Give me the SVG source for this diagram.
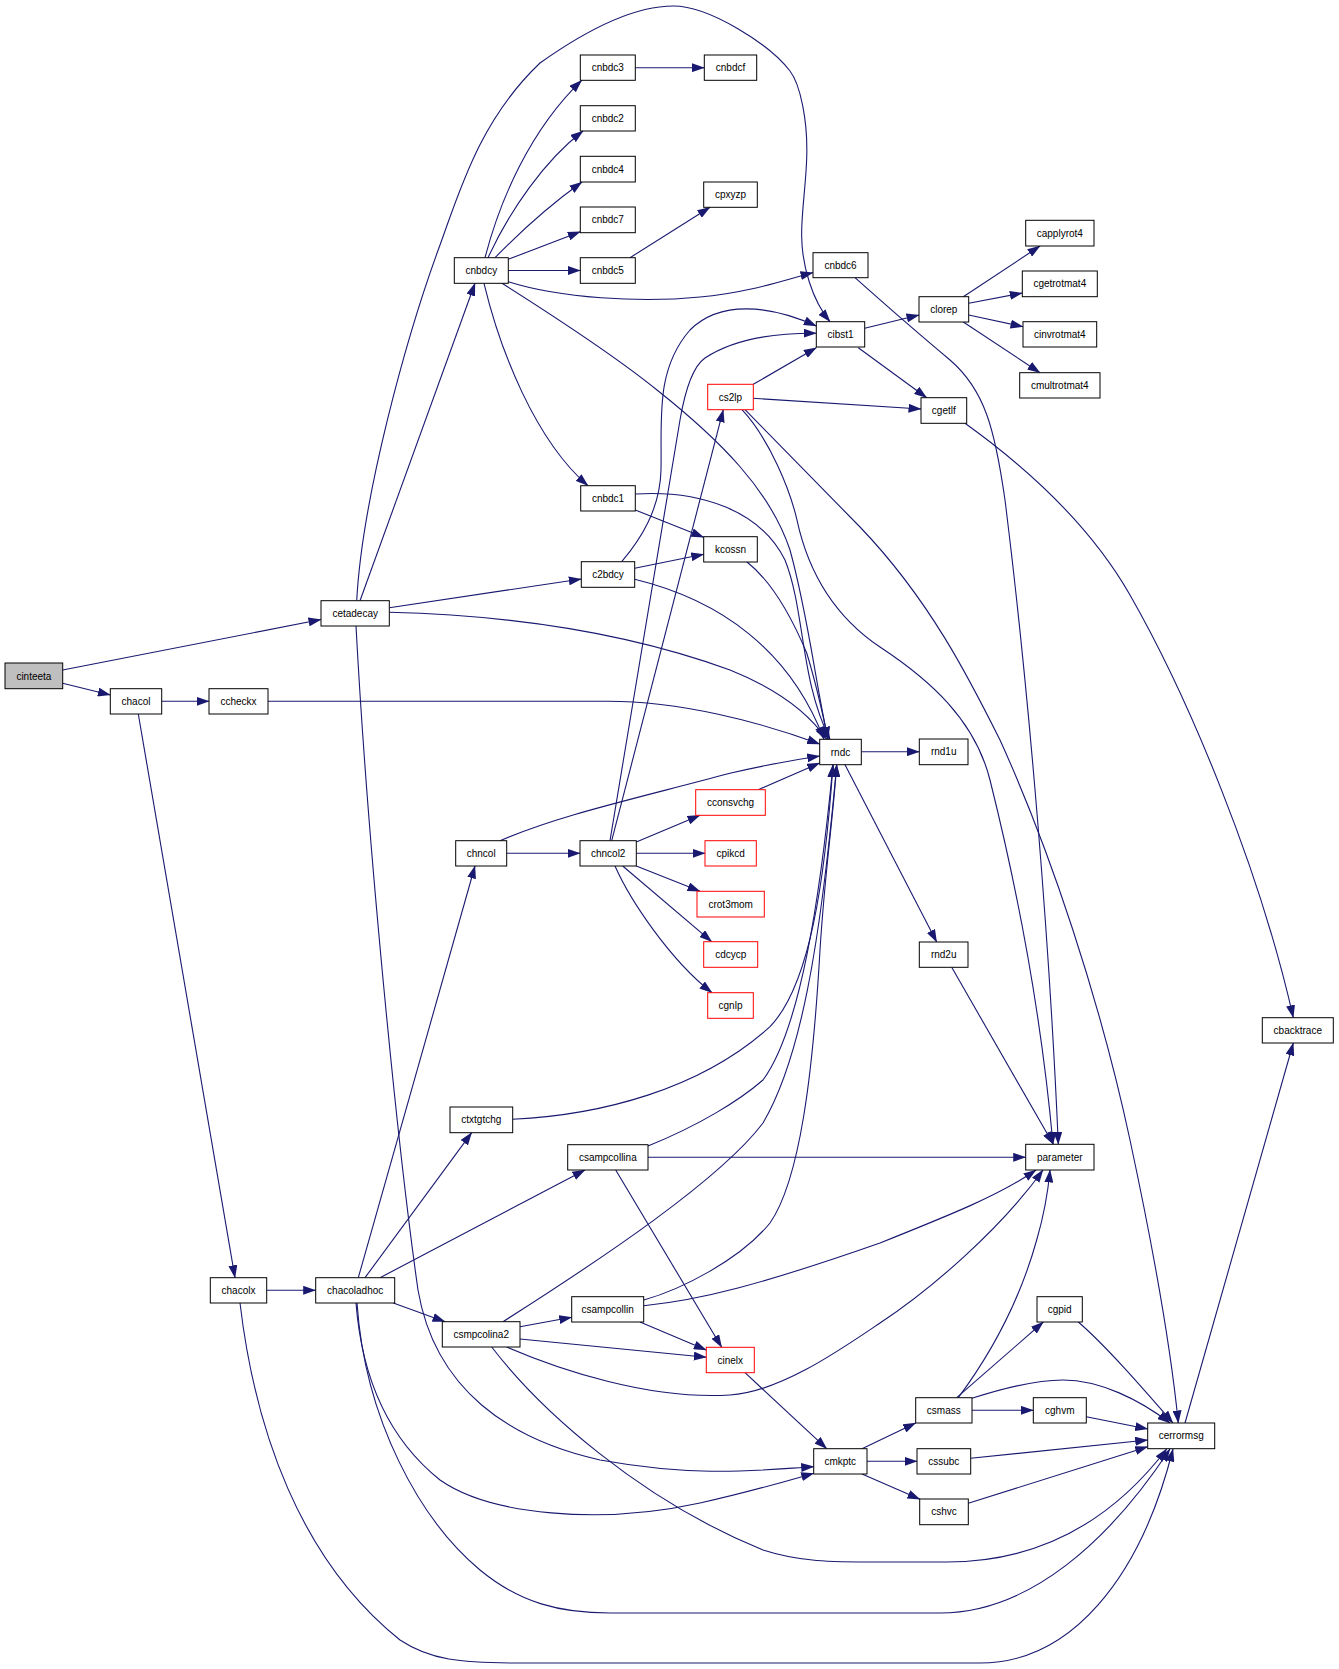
<svg xmlns="http://www.w3.org/2000/svg" width="1339" height="1669" viewBox="0 0 1339 1669">
<style>
.n rect{fill:#fff;stroke:#000;stroke-width:1}
.n.r rect{stroke:#ff0000}
.n.g rect{fill:#bfbfbf}
.n text{font-family:"Liberation Sans",Arial,sans-serif;font-size:10px;fill:#000;text-anchor:middle}
#edges path{fill:none;stroke:#191970;stroke-width:1.1;marker-end:url(#ah)}
</style>
<defs>
<marker id="ah" markerWidth="13" markerHeight="9" refX="12.5" refY="4.5" orient="auto" markerUnits="userSpaceOnUse">
<path d="M0,0 L13,4.5 L0,9 z" fill="#191970"/>
</marker>
</defs>
<rect width="1339" height="1669" fill="#fff"/>
<g id="edges">
<path d="M62.7,670 L321,619.5"/>
<path d="M62.7,683.3 L110.3,695"/>
<path d="M161.7,701.3 L209,701.3"/>
<path d="M138.3,714 L235,1277.7"/>
<path d="M268,701.3 L606,701.3 C680,701 760,722 819.7,744"/>
<path d="M360,600.7 L475,283.3"/>
<path d="M356.7,600.8 C362,500 405,340 440,245 C460,190 480,120 540,63 C590,27.5 635,6 673.3,6 C710,6 770,45 790,71 C800,84 808,120 806.7,158 C806,185 801,215 801.7,237 C802,265 812,300 830,321.7"/>
<path d="M389.3,607.7 L581.3,579"/>
<path d="M389.3,612.3 C500,615 620,630 730,670 C780,690 810,715 826.7,739.3"/>
<path d="M356,626 C368,850 398,1150 418,1290 C435,1390 510,1440 600,1460 C700,1478 760,1470 813.7,1466.7"/>
<path d="M485,257.7 C500,200 530,130 581.7,80.3"/>
<path d="M488,257.7 C510,210 545,160 583,131"/>
<path d="M495,257.7 C520,232 550,205 582,182"/>
<path d="M508.3,259.3 L580.3,231.7"/>
<path d="M508.3,270.5 L580.3,270.5"/>
<path d="M635.3,67.7 L704.3,67.7"/>
<path d="M630,257.7 L710,207.3"/>
<path d="M508.3,281.7 C560,298 640,303 700,297 C750,293 790,278 813,272.7"/>
<path d="M484,283.3 C500,350 535,440 588,485.7"/>
<path d="M502,283.3 C560,320 620,360 657,390 C720,440 770,490 790,550 C808,615 815,680 828,739.3"/>
<path d="M635.3,494 C700,490 760,510 785,560 C805,610 800,680 830,739.3"/>
<path d="M635.3,510 L703.7,537.3"/>
<path d="M634.7,568.3 L703.7,554.3"/>
<path d="M634.7,579.3 C720,600 790,650 824,739.3"/>
<path d="M621.7,561.7 C640,540 660,510 661,470 C662,420 655,370 690,330 C720,300 770,305 816.3,326"/>
<path d="M746.7,561.7 C770,580 790,613 806.7,653 C815,680 822,710 828,739.3"/>
<path d="M610,840.7 L680,420 C686,385 695,365 705,358 C735,338 780,333 816.3,333.3"/>
<path d="M611.7,840.7 L723.3,409.7"/>
<path d="M753.3,384.3 L816.3,347.7"/>
<path d="M753.3,398.3 L921,409"/>
<path d="M742,409.7 C770,440 790,490 797,520 C810,580 840,620 880,647 C930,680 975,720 990,780 C1015,880 1040,1000 1053,1144.3"/>
<path d="M745,409.7 L860,527 C930,600 970,680 1000,740 C1050,850 1100,1000 1130,1140 C1160,1280 1172,1360 1178.3,1423"/>
<path d="M864.7,328.3 L919,315"/>
<path d="M858.3,347.7 L926.7,397.7"/>
<path d="M963.3,296.7 L1040,246"/>
<path d="M968.7,303.3 L1022.3,293"/>
<path d="M968.7,315 L1023,326.7"/>
<path d="M963.3,322 L1040,372.7"/>
<path d="M965,423.3 C1030,470 1090,525 1130,595 C1190,700 1260,870 1293.3,1017.7"/>
<path d="M855,277.7 C880,300 920,335 950,360 C985,390 995,430 1005,500 C1030,700 1050,950 1058.3,1144.3"/>
<path d="M861.3,751.7 L919.3,751.7"/>
<path d="M845,764.7 L936.7,942"/>
<path d="M951.7,967.3 L1053.3,1144.3"/>
<path d="M500,840.7 C560,815 630,800 730,773.3 C770,764 800,759 819.7,756"/>
<path d="M758.3,789.7 L819.7,763"/>
<path d="M506.7,853.3 L580,853.3"/>
<path d="M636.3,842 L700,815.3"/>
<path d="M636.3,853.3 L705,853.3"/>
<path d="M636.3,866 L700,891.3"/>
<path d="M622.7,866 L711.7,941.7"/>
<path d="M615,866 C630,900 670,960 712,992.7"/>
<path d="M358.3,1277.7 L475,866"/>
<path d="M365,1277.7 L471.7,1132.7"/>
<path d="M380,1277.7 L585,1170"/>
<path d="M393.3,1303 L445,1321.7"/>
<path d="M266.7,1290.3 L315.7,1290.3"/>
<path d="M356,1303 C362,1380 390,1440 440,1480 C490,1515 600,1525 700,1503 C750,1492 790,1480 813.7,1473.3"/>
<path d="M357,1303 C365,1420 420,1520 480,1570 C520,1603 560,1613 610,1613 L940,1613 C1030,1613 1110,1540 1170,1449"/>
<path d="M240,1303 C255,1430 300,1560 400,1640 C430,1660 460,1663 520,1663 L980,1663 C1070,1663 1140,1580 1173,1449"/>
<path d="M491.7,1347 C540,1410 640,1500 763,1550 C800,1562 830,1562 880,1562 L946.7,1562 C1050,1562 1120,1510 1166.7,1449"/>
<path d="M503,1321.7 C600,1260 720,1180 763,1123 C800,1060 820,950 836.7,764.7"/>
<path d="M520,1326.7 L571.7,1317.3"/>
<path d="M520,1339 L706.3,1357.3"/>
<path d="M506.7,1347 C560,1370 650,1400 730,1395 C780,1392 840,1350 880,1323 C930,1290 1000,1230 1043,1170"/>
<path d="M640,1322 L706.3,1350"/>
<path d="M643.7,1300 C680,1290 740,1260 770,1223 C800,1180 813,1073 820,950 C825,870 833,820 836.7,764.7"/>
<path d="M643.7,1305.7 C700,1300 760,1285 880,1243 C950,1215 1000,1195 1036,1170"/>
<path d="M615.7,1170 L721.7,1347.3"/>
<path d="M648,1146 C700,1125 740,1100 763,1080 C800,1030 820,900 833,764.7"/>
<path d="M648,1157.3 L1025.7,1157.3"/>
<path d="M512.7,1119.3 C600,1115 700,1090 770,1026.7 C810,985 825,880 833,764.7"/>
<path d="M745,1372.7 L826.7,1448.7"/>
<path d="M862,1448.7 L915.7,1423"/>
<path d="M867,1461.3 L917,1461.3"/>
<path d="M862,1474 L920,1499.3"/>
<path d="M956.7,1397.7 L1043.3,1322"/>
<path d="M958.3,1397.7 C990,1355 1020,1300 1036.7,1240 C1044,1215 1048,1192 1050,1170"/>
<path d="M972,1410.3 L1033.3,1410.3"/>
<path d="M972,1398.3 C1010,1386 1040,1380 1063,1380 C1100,1380 1140,1400 1170,1423"/>
<path d="M1086.3,1416.7 L1147.7,1429"/>
<path d="M1078.3,1322 C1105,1345 1140,1385 1173,1423"/>
<path d="M970.7,1458.3 L1147.7,1440"/>
<path d="M968.3,1503.3 L1147.7,1446.7"/>
<path d="M1185,1423 L1293.3,1043"/>
</g>
<g id="cinteeta" class="n g"><rect x="5" y="663" width="57.7" height="25.7"/><text x="33.9" y="679.5">cinteeta</text></g>
<g id="chacol" class="n"><rect x="110.3" y="688.7" width="51.4" height="25.3"/><text x="136" y="704.9">chacol</text></g>
<g id="ccheckx" class="n"><rect x="209" y="688.7" width="59" height="25.3"/><text x="238.5" y="704.9">ccheckx</text></g>
<g id="cetadecay" class="n"><rect x="321" y="600.7" width="68.3" height="25.3"/><text x="355.2" y="616.9">cetadecay</text></g>
<g id="cnbdcy" class="n"><rect x="454.3" y="257.7" width="54" height="25.6"/><text x="481.3" y="274.1">cnbdcy</text></g>
<g id="cnbdc3" class="n"><rect x="580.3" y="55" width="55" height="25.3"/><text x="607.8" y="71.3">cnbdc3</text></g>
<g id="cnbdcf" class="n"><rect x="704.3" y="55" width="52.4" height="25.3"/><text x="730.5" y="71.3">cnbdcf</text></g>
<g id="cnbdc2" class="n"><rect x="580.3" y="105.7" width="55" height="25.3"/><text x="607.8" y="121.9">cnbdc2</text></g>
<g id="cnbdc4" class="n"><rect x="580.3" y="156.3" width="55" height="25.7"/><text x="607.8" y="172.8">cnbdc4</text></g>
<g id="cnbdc7" class="n"><rect x="580.3" y="207" width="55" height="25.7"/><text x="607.8" y="223.4">cnbdc7</text></g>
<g id="cnbdc5" class="n"><rect x="580.3" y="257.7" width="55" height="25.6"/><text x="607.8" y="274.1">cnbdc5</text></g>
<g id="cpxyzp" class="n"><rect x="703.7" y="182" width="53.6" height="25.3"/><text x="730.5" y="198.3">cpxyzp</text></g>
<g id="cnbdc6" class="n"><rect x="813" y="252.7" width="55" height="25"/><text x="840.5" y="268.8">cnbdc6</text></g>
<g id="cibst1" class="n"><rect x="816.3" y="321.7" width="48.4" height="25.3"/><text x="840.5" y="337.9">cibst1</text></g>
<g id="cs2lp" class="n r"><rect x="707.7" y="384.3" width="45.6" height="25.4"/><text x="730.5" y="400.6">cs2lp</text></g>
<g id="clorep" class="n"><rect x="919" y="296.7" width="49.7" height="25.3"/><text x="943.8" y="312.9">clorep</text></g>
<g id="cgetlf" class="n"><rect x="921" y="397.7" width="45.7" height="25.6"/><text x="943.8" y="414.1">cgetlf</text></g>
<g id="capplyrot4" class="n"><rect x="1025.7" y="220.3" width="68.3" height="25.7"/><text x="1059.8" y="236.8">capplyrot4</text></g>
<g id="cgetrotmat4" class="n"><rect x="1022.3" y="271" width="75" height="25.7"/><text x="1059.8" y="287.4">cgetrotmat4</text></g>
<g id="cinvrotmat4" class="n"><rect x="1023" y="321.7" width="73.7" height="25.3"/><text x="1059.8" y="337.9">cinvrotmat4</text></g>
<g id="cmultrotmat4" class="n"><rect x="1019.7" y="372.7" width="80.3" height="25.3"/><text x="1059.8" y="388.9">cmultrotmat4</text></g>
<g id="cnbdc1" class="n"><rect x="580.7" y="485.7" width="54.6" height="25.3"/><text x="608" y="501.9">cnbdc1</text></g>
<g id="kcossn" class="n"><rect x="703.7" y="536.7" width="53.6" height="25.3"/><text x="730.5" y="552.9">kcossn</text></g>
<g id="c2bdcy" class="n"><rect x="581.3" y="561.7" width="53.4" height="25.6"/><text x="608" y="578.1">c2bdcy</text></g>
<g id="rndc" class="n"><rect x="819.7" y="739.3" width="41.6" height="25.4"/><text x="840.5" y="755.6">rndc</text></g>
<g id="rnd1u" class="n"><rect x="919.3" y="739" width="48.7" height="25.7"/><text x="943.7" y="755.4">rnd1u</text></g>
<g id="rnd2u" class="n"><rect x="919.3" y="942" width="48.7" height="25.3"/><text x="943.7" y="958.3">rnd2u</text></g>
<g id="cconsvchg" class="n r"><rect x="695.7" y="789.7" width="69.6" height="25.6"/><text x="730.5" y="806.1">cconsvchg</text></g>
<g id="chncol" class="n"><rect x="455.7" y="840.7" width="51" height="25.3"/><text x="481.2" y="856.9">chncol</text></g>
<g id="chncol2" class="n"><rect x="580" y="840.7" width="56.3" height="25.3"/><text x="608.2" y="856.9">chncol2</text></g>
<g id="cpikcd" class="n r"><rect x="705" y="840.7" width="51.3" height="25.3"/><text x="730.7" y="856.9">cpikcd</text></g>
<g id="crot3mom" class="n r"><rect x="697" y="891.3" width="67.3" height="25.7"/><text x="730.7" y="907.8">crot3mom</text></g>
<g id="cdcycp" class="n r"><rect x="703.7" y="941.7" width="54" height="25.6"/><text x="730.7" y="958.1">cdcycp</text></g>
<g id="cgnlp" class="n r"><rect x="707.7" y="992.7" width="45.6" height="25.6"/><text x="730.5" y="1009.1">cgnlp</text></g>
<g id="cbacktrace" class="n"><rect x="1262.3" y="1017.7" width="71" height="25.3"/><text x="1297.8" y="1033.9">cbacktrace</text></g>
<g id="ctxtgtchg" class="n"><rect x="450" y="1107" width="62.7" height="25.7"/><text x="481.3" y="1123.4">ctxtgtchg</text></g>
<g id="csampcollina" class="n"><rect x="567.7" y="1144.7" width="80.3" height="25.3"/><text x="607.8" y="1160.9">csampcollina</text></g>
<g id="parameter" class="n"><rect x="1025.7" y="1144.3" width="68.3" height="25.7"/><text x="1059.8" y="1160.8">parameter</text></g>
<g id="chacolx" class="n"><rect x="210.3" y="1277.7" width="56.4" height="25.3"/><text x="238.5" y="1293.9">chacolx</text></g>
<g id="chacoladhoc" class="n"><rect x="315.7" y="1277.7" width="79" height="25.3"/><text x="355.2" y="1293.9">chacoladhoc</text></g>
<g id="csmpcolina2" class="n"><rect x="442.3" y="1321.7" width="77.7" height="25.3"/><text x="481.2" y="1337.9">csmpcolina2</text></g>
<g id="csampcollin" class="n"><rect x="571.7" y="1296.7" width="72" height="25.3"/><text x="607.7" y="1312.9">csampcollin</text></g>
<g id="cinelx" class="n r"><rect x="706.3" y="1347.3" width="48" height="25.4"/><text x="730.3" y="1363.6">cinelx</text></g>
<g id="cgpid" class="n"><rect x="1037" y="1296.7" width="45.3" height="25.3"/><text x="1059.7" y="1312.9">cgpid</text></g>
<g id="csmass" class="n"><rect x="915.7" y="1397.7" width="56.3" height="25.3"/><text x="943.8" y="1413.9">csmass</text></g>
<g id="cghvm" class="n"><rect x="1033.3" y="1397.7" width="53" height="25.3"/><text x="1059.8" y="1413.9">cghvm</text></g>
<g id="cerrormsg" class="n"><rect x="1147.7" y="1423" width="67" height="25.7"/><text x="1181.2" y="1439.4">cerrormsg</text></g>
<g id="cmkptc" class="n"><rect x="813.7" y="1448.7" width="53.3" height="25.3"/><text x="840.3" y="1464.9">cmkptc</text></g>
<g id="cssubc" class="n"><rect x="917" y="1448.7" width="53.7" height="25.3"/><text x="943.8" y="1464.9">cssubc</text></g>
<g id="cshvc" class="n"><rect x="919.7" y="1499" width="48.6" height="25.7"/><text x="944" y="1515.4">cshvc</text></g>
</svg>
